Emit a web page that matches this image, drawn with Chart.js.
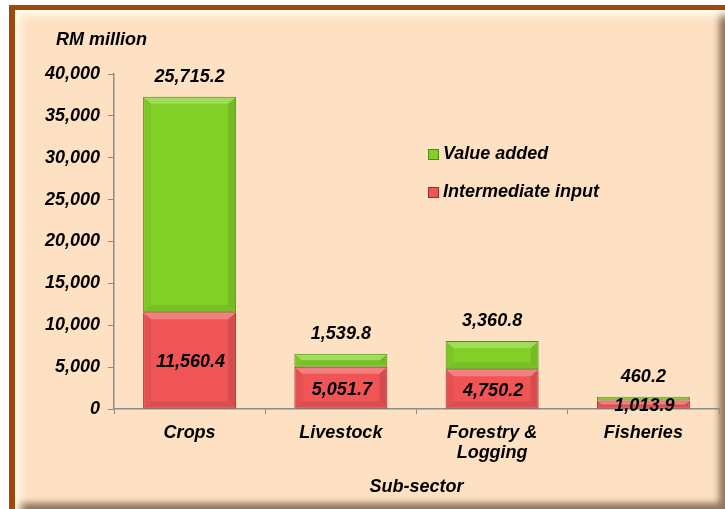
<!DOCTYPE html>
<html lang="en">
<head>
  <meta charset="UTF-8">
  <title>Sub-sector: Intermediate input and Value added</title>
  <script src="https://cdn.jsdelivr.net/npm/chart.js"></script>
  <style>
    * {
      margin: 0;
      padding: 0;
      box-sizing: border-box;
    }

    body {
      width: 725px;
      height: 509px;
      overflow: hidden;
      background-color: #ffffff;
      position: relative;
    }

    .frame {
      position: absolute;
      left: 9px;
      top: 5px;
      width: 716px;
      height: 504px;
      background-color: #fde1c2;
      border-left: 6px solid #9c4a0b;
      border-top: 5px solid #9c4a0b;
      box-shadow: inset 12px 12px 8px -6px rgba(255, 252, 235, 0.95),
                  inset -10px -10px 6px -4px rgba(120, 90, 70, 0.8);
    }

    .chart-box {
      position: absolute;
      left: 0;
      top: 0;
    }
  </style>
</head>
<body>
  <div class="frame"></div>
  <div class="chart-box">
    <canvas id="subsector-chart" width="725" height="509"></canvas>
  </div>

  <script>
    const categories = ['Crops', 'Livestock', ['Forestry &', 'Logging'], 'Fisheries'];
    const intermediateInput = [11560.4, 5051.7, 4750.2, 1013.9];
    const valueAdded = [25715.2, 1539.8, 3360.8, 460.2];
    const yMin = 0;
    const yMax = 40000;
    const yStep = 5000;

    const FONT_FAMILY = '"Liberation Sans", Arial, sans-serif';
    const labelFont = { family: FONT_FAMILY, size: 18, weight: 'bold', style: 'italic', lineHeight: 1.1 };
    const tickFont = { family: FONT_FAMILY, size: 18, weight: 'bold', style: 'italic' };

    const RED = '#ef5557';
    const RED_EDGE = '#9e2a2a';
    const GREEN = '#82d027';
    const GREEN_EDGE = '#4c8a12';

    const fmt = v => v.toLocaleString('en-US', { minimumFractionDigits: 1, maximumFractionDigits: 1 });

    // little bevel on each bar, like the office chart style
    const bevelPlugin = {
      id: 'bevel',
      afterDatasetsDraw(chart) {
        const ctx = chart.ctx;
        ctx.save();
        chart.data.datasets.forEach((ds, di) => {
          chart.getDatasetMeta(di).data.forEach(bar => {
            const { x, y, base, width } = bar.getProps(['x', 'y', 'base', 'width'], true);
            const l = x - width / 2, r = x + width / 2, t = Math.min(y, base), b = Math.max(y, base);
            const bv = Math.min(7, (b - t) / 2);
            const poly = (pts, color) => {
              ctx.beginPath();
              ctx.moveTo(pts[0][0], pts[0][1]);
              pts.slice(1).forEach(p => ctx.lineTo(p[0], p[1]));
              ctx.closePath();
              ctx.fillStyle = color;
              ctx.fill();
            };
            poly([[l + 1, t + 1], [r - 1, t + 1], [r - 1 - bv, t + bv], [l + 1 + bv, t + bv]], 'rgba(255,255,255,0.25)');
            poly([[l + 1, b - 1], [r - 1, b - 1], [r - 1 - bv, b - bv], [l + 1 + bv, b - bv]], 'rgba(0,0,0,0.08)');
            poly([[l + 1, t + 1], [l + 1 + bv, t + bv], [l + 1 + bv, b - bv], [l + 1, b - 1]], 'rgba(0,0,0,0.04)');
            poly([[r - 1, t + 1], [r - 1 - bv, t + bv], [r - 1 - bv, b - bv], [r - 1, b - 1]], 'rgba(0,0,0,0.10)');
          });
        });
        ctx.restore();
      }
    };

    const textPlugin = {
      id: 'texts',
      afterDraw(chart) {
        const ctx = chart.ctx;
        ctx.save();
        ctx.font = `italic bold ${labelFont.size}px ${FONT_FAMILY}`;
        ctx.fillStyle = '#000';
        ctx.textAlign = 'center';
        ctx.textBaseline = 'middle';

        chart.getDatasetMeta(0).data.forEach((bar, i) => {
          ctx.fillText(fmt(intermediateInput[i]), bar.x + 1, (bar.y + bar.base) / 2 + 2);
        });
        chart.getDatasetMeta(1).data.forEach((bar, i) => {
          ctx.fillText(fmt(valueAdded[i]), bar.x, bar.y - 20);
        });

        // unit label
        ctx.textAlign = 'left';
        ctx.fillText('RM million', 56, 40);

        // legend (value added on top)
        const items = [chart.data.datasets[1], chart.data.datasets[0]];
        items.forEach((ds, i) => {
          const cy = 154 + i * 38;
          ctx.fillStyle = ds.backgroundColor;
          ctx.fillRect(428, cy - 5, 11, 11);
          ctx.strokeStyle = ds.borderColor;
          ctx.lineWidth = 1;
          ctx.strokeRect(428.5, cy - 4.5, 10, 10);
          ctx.fillStyle = '#000';
          ctx.fillText(ds.label, 443, cy);
        });
        ctx.restore();
      }
    };

    new Chart(document.getElementById('subsector-chart'), {
      type: 'bar',
      data: {
        labels: categories,
        datasets: [
          {
            label: 'Intermediate input',
            data: intermediateInput,
            backgroundColor: RED,
            borderColor: RED_EDGE,
            borderWidth: 1,
            borderSkipped: false,
          },
          {
            label: 'Value added',
            data: valueAdded,
            backgroundColor: GREEN,
            borderColor: GREEN_EDGE,
            borderWidth: 1,
            borderSkipped: false,
          },
        ],
      },
      options: {
        responsive: false,
        animation: false,
        devicePixelRatio: 1,
        categoryPercentage: 1,
        barPercentage: 0.615,
        layout: { padding: { left: 0, right: 6, top: 74, bottom: 12 } },
        plugins: {
          legend: { display: false },
          tooltip: { enabled: false },
        },
        scales: {
          x: {
            stacked: true,
            grid: { offset: true, drawOnChartArea: false, tickLength: 5, color: '#8c8c8c' },
            border: { color: '#8c8c8c', width: 1.5 },
            ticks: { font: labelFont, color: '#000', padding: 9, maxRotation: 0, autoSkip: false },
            title: { display: true, text: 'Sub-sector', font: labelFont, color: '#000', padding: 0 },
            afterFit(scale) { scale.height = 88; },
          },
          y: {
            stacked: true,
            min: yMin,
            max: yMax,
            ticks: {
              stepSize: yStep,
              font: tickFont,
              color: '#000',
              padding: 8,
              callback: v => v.toLocaleString('en-US'),
            },
            grid: { drawOnChartArea: false, tickLength: 6, color: '#8c8c8c' },
            border: { color: '#8c8c8c', width: 1.5 },
            afterFit(scale) { scale.width = 114; },
          },
        },
      },
      plugins: [bevelPlugin, textPlugin],
    });
  </script>
</body>
</html>
